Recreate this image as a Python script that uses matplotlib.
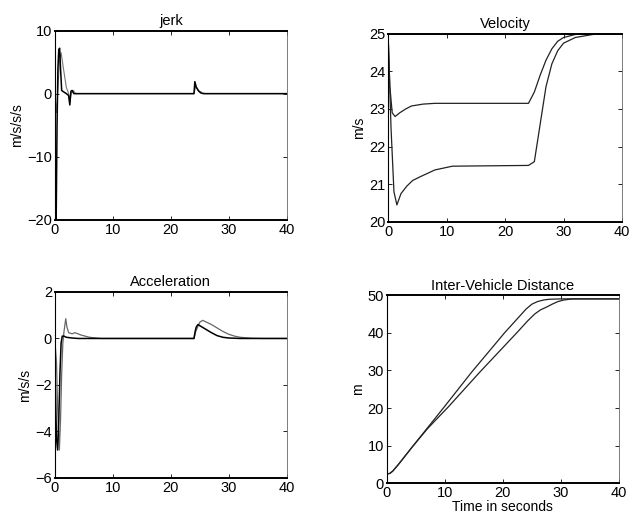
import matplotlib
matplotlib.use("Agg")
import matplotlib.pyplot as plt
import numpy as np

plt.rcParams['font.family'] = ['Liberation Sans', 'DejaVu Sans']

# ---- data ----
time_ticks = [0, 10, 20, 30, 40]

jerk1_t = [0, 0.1, 0.25, 0.4, 0.55, 0.7, 0.85, 1.0, 1.2, 1.5, 2.0, 2.4, 2.6, 2.8, 3.0, 3.3, 4.0, 24.0, 24.15, 24.4, 24.8, 25.2, 25.6, 40]
jerk1_v = [0, -20, -20, -5, 4, 7.0, 7.2, 4, 0.5, 0.3, 0, -0.3, -1.8, 0.4, 0.5, 0, 0, 0, 1.9, 1.0, 0.4, 0.1, 0, 0]
jerk2_t = [0, 0.3, 0.5, 0.8, 1.1, 1.5, 2.0, 2.4, 2.6, 2.8, 3.2, 3.6, 24.0, 24.3, 24.8, 25.5, 26.0, 40]
jerk2_v = [0, -3, 0, 5, 6.5, 4, 1, 0, -1.5, 0, 0.5, 0, 0, 1.2, 0.5, 0.1, 0, 0]

vel1_t = [0, 0.3, 0.7, 1.2, 2, 3, 4, 6, 8, 24, 25, 26, 27, 28, 29, 30, 32, 34, 40]
vel1_v = [25, 23.6, 22.9, 22.8, 22.9, 23.0, 23.08, 23.13, 23.15, 23.15, 23.45, 23.9, 24.3, 24.6, 24.8, 24.9, 24.98, 25, 25]
vel2_t = [0, 0.5, 1.0, 1.5, 2.2, 3.2, 4.2, 5.5, 8, 11, 24, 25, 26, 27, 28, 29, 30, 32, 35, 37, 40]
vel2_v = [25, 22.5, 20.8, 20.45, 20.75, 20.95, 21.1, 21.2, 21.38, 21.48, 21.5, 21.6, 22.6, 23.6, 24.2, 24.55, 24.75, 24.9, 24.98, 25, 25]
lead_t = [0, 40]
lead_v = [25, 25]

acc1_t = [0, 0.1, 0.3, 0.5, 0.7, 0.9, 1.1, 1.3, 1.6, 2.0, 3.0, 4.0, 6.0, 24.0, 24.2, 24.4, 24.7, 25.0, 26.0, 27.0, 28.0, 29.0, 30.0, 32.0, 40]
acc1_v = [0, -2, -4.3, -4.8, -3.5, -1.5, -0.2, 0.1, 0.1, 0.05, 0.02, 0, 0, 0, 0.3, 0.5, 0.6, 0.55, 0.4, 0.25, 0.12, 0.05, 0.02, 0, 0]
acc2_t = [0, 0.3, 0.5, 0.8, 1.0, 1.2, 1.4, 1.6, 1.9, 2.1, 2.4, 3.0, 3.5, 4.5, 6.0, 8.0, 24.0, 24.3, 25.0, 25.5, 26.0, 27.0, 28.0, 29.0, 30.0, 31.0, 32.0, 34.0, 36.0, 40]
acc2_v = [0, -1, -3, -4.8, -3.5, -1.5, -0.2, 0.3, 0.85, 0.5, 0.25, 0.2, 0.25, 0.15, 0.05, 0, 0, 0.3, 0.7, 0.78, 0.72, 0.6, 0.45, 0.3, 0.18, 0.1, 0.05, 0.01, 0, 0]

dist1_t = [0, 0.5, 1, 2, 4.3, 10, 14.6, 20.3, 24, 25, 26, 27, 28, 30, 40]
dist1_v = [2.5, 2.6, 3.2, 5, 9.5, 20.5, 29.5, 40, 46.3, 47.6, 48.3, 48.7, 48.9, 49, 49]
dist2_t = [0, 0.5, 1, 2, 4.3, 7, 10.6, 16, 22.4, 24.3, 25.5, 26.5, 27.5, 28.5, 29.5, 30.5, 32, 40]
dist2_v = [2.5, 2.6, 3.2, 5, 9.5, 14.5, 20.3, 29.5, 40, 43.2, 45, 46.1, 46.8, 47.6, 48.3, 48.7, 49, 49]

fig = plt.figure(figsize=(6.29, 5.27), dpi=100)

def setup(ax, title, ylabel, ylim, yticks, xlabel=None):
    ax.set_xlim(0, 40)
    ax.set_ylim(*ylim)
    ax.set_xticks(time_ticks)
    ax.set_yticks(yticks)
    ax.set_title(title, fontsize=10.5, pad=4)
    ax.set_ylabel(ylabel, fontsize=10, labelpad=2)
    if xlabel:
        ax.set_xlabel(xlabel, fontsize=10, labelpad=0)
    ax.tick_params(direction='in', length=3, width=0.6, labelsize=10.5, top=True, right=True, pad=2)
    for s in ['top', 'bottom']:
        ax.spines[s].set_linewidth(1.4)
    ax.spines['left'].set_linewidth(0.8)
    ax.spines['right'].set_linewidth(0.6)
    ax.spines['right'].set_color('#666666')

ax1 = fig.add_axes([0.087, 0.583, 0.369, 0.359])
ax1.plot(jerk2_t, jerk2_v, color='#777777', lw=0.8)
ax1.plot(jerk1_t, jerk1_v, color='black', lw=1.1)
setup(ax1, 'jerk', 'm/s/s/s', (-20, 10), [-20, -10, 0, 10])

ax2 = fig.add_axes([0.617, 0.579, 0.372, 0.357])
ax2.plot(lead_t, lead_v, color='black', lw=1.4)
ax2.plot(vel1_t, vel1_v, color='#222222', lw=0.9)
ax2.plot(vel2_t, vel2_v, color='#222222', lw=0.9)
setup(ax2, 'Velocity', 'm/s', (20, 25), [20, 21, 22, 23, 24, 25])

ax3 = fig.add_axes([0.087, 0.093, 0.369, 0.353])
ax3.plot(acc2_t, acc2_v, color='#666666', lw=0.9)
ax3.plot(acc1_t, acc1_v, color='black', lw=1.1)
setup(ax3, 'Acceleration', 'm/s/s', (-6, 2), [-6, -4, -2, 0, 2])

ax4 = fig.add_axes([0.615, 0.083, 0.369, 0.357])
ax4.plot(dist1_t, dist1_v, color='#222222', lw=0.9)
ax4.plot(dist2_t, dist2_v, color='#222222', lw=0.9)
setup(ax4, 'Inter-Vehicle Distance', 'm', (0, 50), [0, 10, 20, 30, 40, 50], xlabel='Time in seconds')

fig.savefig('out.png', dpi=100)
